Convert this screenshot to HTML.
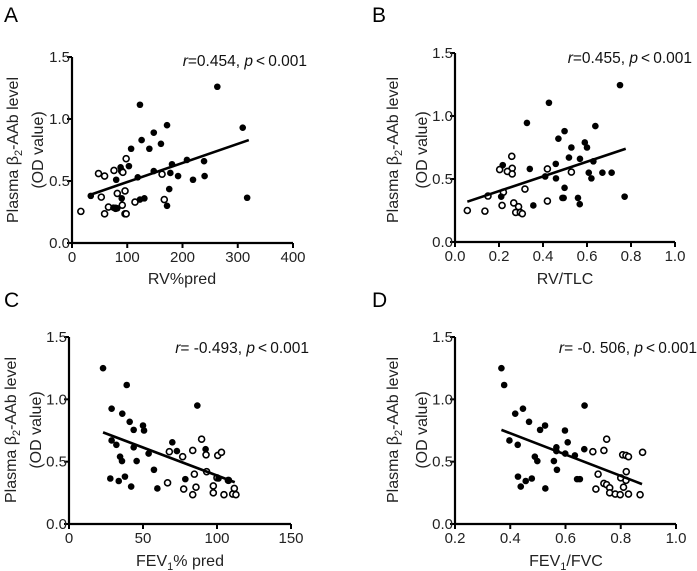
<!DOCTYPE html>
<html><head><meta charset="utf-8"><style>
html,body{margin:0;padding:0;background:#fff;}
svg{display:block;font-family:"Liberation Sans",Arial,sans-serif;}
</style></head><body>
<svg id="fig" width="697" height="571" viewBox="0 0 697 571"></svg>
<script>
// Panel A data
const aFilledX=[263,123,172,309,148,126,161,107,140,208,239,181,103,88,148,178,192,240,119,80,219,176,34,90,131,123,317,172,82,75];
const aFilledY=[1.26,1.115,0.95,0.93,0.89,0.83,0.80,0.76,0.76,0.67,0.66,0.635,0.62,0.61,0.58,0.565,0.54,0.54,0.53,0.51,0.51,0.435,0.38,0.36,0.36,0.35,0.365,0.30,0.28,0.285];
const aOpenX=[98,48,59,76,90,92,163,53,82,96,91,114,167,66,59,16,96,98,79];
const aOpenY=[0.68,0.56,0.54,0.585,0.58,0.57,0.555,0.37,0.40,0.42,0.305,0.33,0.35,0.29,0.235,0.255,0.235,0.235,0.28];
const aLine=[[34,0.39],[320,0.83]];
const aXTicks=[0,100,200,300,400];
// Panel B data
const bFilledX=[0.75,0.427,0.327,0.638,0.498,0.47,0.59,0.529,0.60,0.518,0.568,0.629,0.458,0.217,0.34,0.608,0.67,0.712,0.62,0.459,0.498,0.488,0.494,0.559,0.567,0.771,0.356,0.21,0.41];
const bFilledY=[1.245,1.105,0.945,0.92,0.88,0.82,0.79,0.75,0.75,0.67,0.66,0.64,0.62,0.61,0.58,0.55,0.55,0.55,0.505,0.505,0.43,0.35,0.35,0.35,0.30,0.36,0.29,0.36,0.52];
const bOpenX=[0.258,0.26,0.203,0.238,0.26,0.42,0.529,0.318,0.22,0.15,0.42,0.267,0.289,0.214,0.276,0.297,0.056,0.136,0.306];
const bOpenY=[0.68,0.585,0.575,0.56,0.54,0.58,0.555,0.42,0.395,0.365,0.325,0.31,0.28,0.29,0.235,0.235,0.25,0.245,0.225];
const bLine=[[0.056,0.32],[0.776,0.74]];
const bXTicks=[0.0,0.2,0.4,0.6,0.8,1.0];
// Panel C data
const cFilledX=[23,39,86.7,28.8,36,41,50,43.7,50.7,69.8,28.8,32,43.7,92.3,53.8,72.9,34.5,35.8,45.7,57.4,27.9,33.6,37.8,42,59.7,78.6,101,108];
const cFilledY=[1.25,1.115,0.95,0.925,0.885,0.82,0.79,0.755,0.75,0.655,0.67,0.635,0.615,0.60,0.565,0.585,0.54,0.505,0.505,0.435,0.365,0.345,0.38,0.30,0.285,0.36,0.365,0.35];
const cOpenX=[89.6,67.8,76.8,83.6,92.6,100.5,103,84.7,93,100,66.6,77.5,85.8,83.6,97.5,97.5,104.7,111.7,110.6,112.8,107.7];
const cOpenY=[0.68,0.58,0.54,0.59,0.555,0.55,0.575,0.40,0.42,0.37,0.33,0.28,0.295,0.235,0.305,0.25,0.235,0.285,0.24,0.235,0.35];
const cLine=[[23,0.735],[112,0.335]];
const cXTicks=[0,50,100,150];
// Panel D data
const dFilledX=[0.368,0.378,0.669,0.446,0.418,0.468,0.526,0.508,0.598,0.397,0.608,0.427,0.567,0.668,0.567,0.599,0.634,0.489,0.498,0.558,0.569,0.428,0.478,0.456,0.438,0.527,0.642,0.652];
const dFilledY=[1.25,1.115,0.95,0.925,0.885,0.82,0.79,0.755,0.75,0.67,0.655,0.635,0.615,0.60,0.585,0.565,0.55,0.54,0.505,0.505,0.435,0.38,0.365,0.345,0.30,0.285,0.36,0.36];
const dOpenX=[0.749,0.699,0.739,0.807,0.819,0.828,0.879,0.718,0.82,0.80,0.819,0.71,0.739,0.749,0.76,0.76,0.78,0.798,0.81,0.828,0.87];
const dOpenY=[0.68,0.58,0.59,0.555,0.55,0.54,0.575,0.40,0.42,0.37,0.35,0.28,0.325,0.315,0.29,0.25,0.24,0.235,0.295,0.24,0.235];
const dLine=[[0.368,0.755],[0.877,0.32]];
const dXTicks=[0.2,0.4,0.6,0.8,1.0];
const yTicks=[0.0,0.5,1.0,1.5];

const NS='http://www.w3.org/2000/svg';
const svg=document.getElementById('fig');
function mk(tag,attrs,parent,text){const e=document.createElementNS(NS,tag);for(const k in attrs)e.setAttribute(k,attrs[k]);if(text!==undefined)e.textContent=text;(parent||svg).appendChild(e);return e;}

const panels=[
 {id:'a',letter:'A',lx:4,ly:22,x0:72,x1:293,y0:243,y1:57,xmin:0,xmax:400,ticks:aXTicks,fmt:v=>String(v),fx:aFilledX,fy:aFilledY,ox:aOpenX,oy:aOpenY,line:aLine,stat:['r','=0.454, ','p','\u2009<\u20090.001'],sx:307,sy:66,t1x:12,t2x:37,ty:150,xt:'RV%pred',xsub:null,xtx:182,xty:284},
 {id:'b',letter:'B',lx:372,ly:22,x0:455,x1:675,y0:242,y1:53,xmin:0,xmax:1,ticks:bXTicks,fmt:v=>v.toFixed(1),fx:bFilledX,fy:bFilledY,ox:bOpenX,oy:bOpenY,line:bLine,stat:['r','=0.455, ','p','\u2009<\u20090.001'],sx:692,sy:63,t1x:392,t2x:421,ty:150,xt:'RV/TLC',xsub:null,xtx:565,xty:284},
 {id:'c',letter:'C',lx:4,ly:307,x0:69,x1:291,y0:524,y1:337,xmin:0,xmax:150,ticks:cXTicks,fmt:v=>String(v),fx:cFilledX,fy:cFilledY,ox:cOpenX,oy:cOpenY,line:cLine,stat:['r','= -0.493, ','p','\u2009<\u20090.001'],sx:309,sy:353,t1x:10,t2x:35,ty:430,xt:'FEV',xsub:['1','% pred'],xtx:180,xty:566},
 {id:'d',letter:'D',lx:372,ly:307,x0:455,x1:676,y0:524,y1:337,xmin:0.2,xmax:1,ticks:dXTicks,fmt:v=>v.toFixed(1),fx:dFilledX,fy:dFilledY,ox:dOpenX,oy:dOpenY,line:dLine,stat:['r','= -0. 506, ','p','\u2009<\u20090.001'],sx:697,sy:353,t1x:392,t2x:421,ty:430,xt:'FEV',xsub:['1','/FVC'],xtx:566,xty:566}
];

panels.forEach(p=>{
 const g=mk('g',{});
 
 
 const X=v=>p.x0+(v-p.xmin)/(p.xmax-p.xmin)*(p.x1-p.x0);
 const Y=v=>p.y0+(v-0)/1.5*(p.y1-p.y0);
 const L=mk('text',{x:p.lx,y:p.ly,'font-size':21,fill:'#000'},g,p.letter);
 
 
 const ax=mk('path',{d:`M${p.x0} ${p.y1}V${p.y0}H${p.x1}`,stroke:'#000','stroke-width':2.2,fill:'none'},g);
 
 
 yTicks.forEach(t=>{
  const y=Y(t);
  mk('line',{x1:p.x0-5,x2:p.x0,y1:y,y2:y,stroke:'#000','stroke-width':2},g);
  const tl=mk('text',{x:p.x0-2,y:y+5,'font-size':15,'text-anchor':'end',fill:'#222'},g,t.toFixed(1));
  
  
 });
 p.ticks.forEach(t=>{
  const x=X(t);
  mk('line',{x1:x,x2:x,y1:p.y0,y2:p.y0+5,stroke:'#000','stroke-width':2},g);
  const tl=mk('text',{x:x,y:p.y0+19,'font-size':15,'text-anchor':'middle',fill:'#222'},g,p.fmt(t));
  
  
 });
 const yt=mk('text',{transform:`translate(${p.t1x+6},${p.ty}) rotate(-90)`,'font-size':16,'text-anchor':'middle',fill:'#222'},g);
 
 
 mk('tspan',{},yt,'Plasma \u03B2');
 mk('tspan',{'font-size':11,dy:4},yt,'2');
 mk('tspan',{dy:-4},yt,'-AAb level');
 const yt2=mk('text',{transform:`translate(${p.t2x+6},${p.ty}) rotate(-90)`,'font-size':16,'text-anchor':'middle',fill:'#222'},g,'(OD value)');
 
 
 const xt=mk('text',{x:p.xtx,y:p.xty,'font-size':16,'text-anchor':'middle',fill:'#222'},g);
 
 
 mk('tspan',{},xt,p.xt);
 if(p.xsub){mk('tspan',{'font-size':11,dy:4},xt,p.xsub[0]);mk('tspan',{dy:-4},xt,p.xsub[1]);}
 const st=mk('text',{x:p.sx,y:p.sy,'font-size':15.5,'text-anchor':'end',fill:'#111'},g);
 
 
 mk('tspan',{'font-style':'italic'},st,p.stat[0]);
 mk('tspan',{},st,p.stat[1]);
 mk('tspan',{'font-style':'italic'},st,p.stat[2]);
 mk('tspan',{},st,p.stat[3]);
 p.ox.forEach((v,i)=>{
  const c=mk('circle',{cx:X(v),cy:Y(p.oy[i]),r:3,fill:'#fff',stroke:'#000','stroke-width':1.6},g);
  
  
 });
 p.fx.forEach((v,i)=>{
  const c=mk('circle',{cx:X(v),cy:Y(p.fy[i]),r:3.3,fill:'#000'},g);
  
  
 });
 const rl=mk('line',{x1:X(p.line[0][0]),y1:Y(p.line[0][1]),x2:X(p.line[1][0]),y2:Y(p.line[1][1]),stroke:'#000','stroke-width':2.6},g);
 
 
});
</script>
</body></html>
